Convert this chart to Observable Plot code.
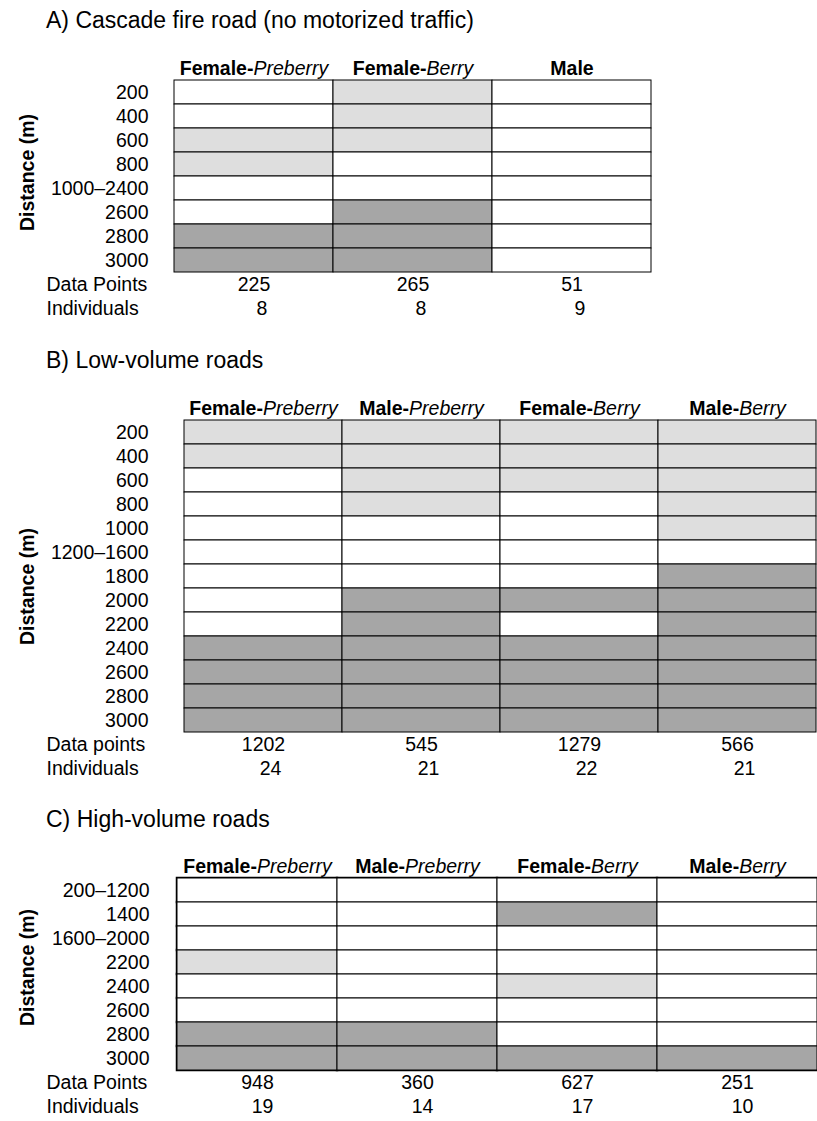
<!DOCTYPE html>
<html><head><meta charset="utf-8">
<script src="https://cdn.jsdelivr.net/npm/d3@7"></script>
<script src="https://cdn.jsdelivr.net/npm/@observablehq/plot@0.6"></script>
<style>
body{margin:0;background:#fff;font-family:"Liberation Sans",Arial,sans-serif;color:#000;width:817px;overflow:hidden}
.title{font-size:23px;line-height:40px;height:40px;padding-left:46px;white-space:nowrap}
svg{display:block}
</style></head><body>
<div id="chart"></div>
<script>
// shading levels: 0 = white, 1 = light grey, 2 = dark grey
const levelColors = ["#ffffff", "#dedede", "#a6a6a6"];

// Panel A
const aTitle = "A) Cascade fire road (no motorized traffic)";
const aColumns = ["Female-Preberry", "Female-Berry", "Male"];
const aRows = ["200", "400", "600", "800", "1000–2400", "2600", "2800", "3000"];
const aLevels = [
  [0, 0, 1, 1, 0, 0, 2, 2],
  [1, 1, 1, 0, 0, 2, 2, 2],
  [0, 0, 0, 0, 0, 0, 0, 0]
];
const aDataPoints = [225, 265, 51];
const aIndividuals = [8, 8, 9];
const aFooterLabels = ["Data Points", "Individuals"];

// Panel B
const bTitle = "B) Low-volume roads";
const bColumns = ["Female-Preberry", "Male-Preberry", "Female-Berry", "Male-Berry"];
const bRows = ["200", "400", "600", "800", "1000", "1200–1600", "1800", "2000", "2200", "2400", "2600", "2800", "3000"];
const bLevels = [
  [1, 1, 0, 0, 0, 0, 0, 0, 0, 2, 2, 2, 2],
  [1, 1, 1, 1, 0, 0, 0, 2, 2, 2, 2, 2, 2],
  [1, 1, 1, 0, 0, 0, 0, 2, 0, 2, 2, 2, 2],
  [1, 1, 1, 1, 1, 0, 2, 2, 2, 2, 2, 2, 2]
];
const bDataPoints = [1202, 545, 1279, 566];
const bIndividuals = [24, 21, 22, 21];
const bFooterLabels = ["Data points", "Individuals"];

// Panel C
const cTitle = "C) High-volume roads";
const cColumns = ["Female-Preberry", "Male-Preberry", "Female-Berry", "Male-Berry"];
const cRows = ["200–1200", "1400", "1600–2000", "2200", "2400", "2600", "2800", "3000"];
const cLevels = [
  [0, 0, 0, 1, 0, 0, 2, 2],
  [0, 0, 0, 0, 0, 0, 2, 2],
  [0, 2, 0, 0, 1, 0, 0, 2],
  [0, 0, 0, 0, 0, 0, 0, 2]
];
const cDataPoints = [948, 360, 627, 251];
const cIndividuals = [19, 14, 17, 10];
const cFooterLabels = ["Data Points", "Individuals"];

const yTitle = "Distance (m)";

const rowH = 24;
const font = "Liberation Sans, Arial, Helvetica, sans-serif";

function panel(p, L) {
  const HEAD = "__head", DP = "__dp", IND = "__ind";
  const domain = [HEAD, ...p.rows, DP, IND];
  const cells = p.columns.flatMap((c, i) => p.rows.map((r, j) => ({col: c, row: r, level: p.levels[i][j]})));
  const dp = p.columns.map((c, i) => ({col: c, row: DP, text: String(p.dataPoints[i])}));
  const ind = p.columns.map((c, i) => ({col: c, row: IND, text: String(p.individuals[i])}));
  const height = L.marginTop + L.marginBottom + rowH * domain.length;
  const fillOf = d => levelColors[d.level];
  const marks = [];
  if (L.thick) marks.push(Plot.cell(cells, {x: "col", y: "row", fill: fillOf, stroke: "black", strokeWidth: L.thick, inset: 0}));
  marks.push(Plot.cell(cells, {x: "col", y: "row", fill: fillOf, stroke: "black", strokeWidth: 1, inset: 0}));
  marks.push(Plot.text(p.columns, {x: d => d, y: () => HEAD, text: d => d}));
  marks.push(Plot.text(dp, {x: "col", y: "row", text: "text"}));
  marks.push(Plot.text(ind, {x: "col", y: "row", text: "text", dx: L.indDx}));
  marks.push(Plot.text([{row: DP, label: p.footerLabels[0]}, {row: IND, label: p.footerLabels[1]}],
    {y: "row", text: "label", frameAnchor: "left", textAnchor: "start", dx: 46 - L.marginLeft}));
  marks.push(Plot.axisY({ticks: p.rows, tickSize: 0, tickPadding: L.tickPadding, label: null}));
  marks.push(Plot.text([yTitle], {frameAnchor: "left", textAnchor: "middle", rotate: -90, dx: 27 - L.marginLeft, dy: -rowH / 2 + L.yTitleDy, fontWeight: "bold"}));
  const svg = Plot.plot({
    width: 817, height,
    marginLeft: L.marginLeft, marginRight: L.marginRight, marginTop: L.marginTop, marginBottom: L.marginBottom,
    x: {type: "band", domain: p.columns, padding: 0, axis: null},
    y: {type: "band", domain, padding: 0},
    fill: {type: "identity"},
    style: {fontFamily: font, fontSize: "19.5px", color: "black", background: "white", overflow: "visible"},
    marks
  });
  const headerSet = new Set(p.columns);
  d3.select(svg).selectAll("text").filter(function() {
    return this.childElementCount === 0 && headerSet.has(this.textContent);
  }).each(function() {
    const t = d3.select(this);
    const s = t.text();
    const k = s.indexOf("-");
    t.text(null);
    if (k < 0) {
      t.append("tspan").attr("font-weight", "bold").text(s);
    } else {
      t.append("tspan").attr("font-weight", "bold").text(s.slice(0, k + 1));
      t.append("tspan").attr("font-style", "italic").text(s.slice(k + 1));
    }
  });
  const title = document.createElement("div");
  title.className = "title";
  title.textContent = p.title;
  const root = document.getElementById("chart");
  root.appendChild(title);
  root.appendChild(svg);
}

panel({title: aTitle, columns: aColumns, rows: aRows, levels: aLevels, dataPoints: aDataPoints, individuals: aIndividuals, footerLabels: aFooterLabels},
  {marginLeft: 173, marginRight: 166, marginTop: 16, marginBottom: 20, tickPadding: 25, indDx: 8, yTitleDy: -4});
panel({title: bTitle, columns: bColumns, rows: bRows, levels: bLevels, dataPoints: bDataPoints, individuals: bIndividuals, footerLabels: bFooterLabels},
  {marginLeft: 183, marginRight: 0, marginTop: 16, marginBottom: 19, tickPadding: 35, indDx: 7, yTitleDy: 10});
panel({title: cTitle, columns: cColumns, rows: cRows, levels: cLevels, dataPoints: cDataPoints, individuals: cIndividuals, footerLabels: cFooterLabels},
  {marginLeft: 177, marginRight: 0, marginTop: 15, marginBottom: 3, tickPadding: 28, indDx: 5, yTitleDy: -7, thick: 2.5});
</script>
</body></html>
